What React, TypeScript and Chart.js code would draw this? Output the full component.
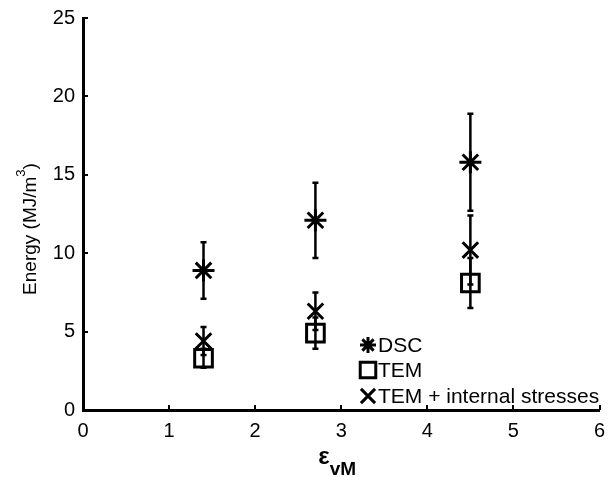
import React, { useEffect, useRef } from "react";
import { Chart, registerables } from "chart.js";

Chart.register(...registerables);

// von Mises strain at which each state was measured
const strainValues = [1.4, 2.7, 4.5];

// stored energy (MJ/m^3) and its error half-width for each method
const dscEnergy = [8.9, 12.1, 15.8];
const dscError = [1.8, 2.4, 3.1];
const temEnergy = [3.3, 4.9, 8.1];
const temError = [0.6, 1.0, 1.6];
const temStressEnergy = [4.4, 6.3, 10.2];
const temStressError = [0.9, 1.2, 2.2];

const seriesLabels = ["DSC", "TEM", "TEM + internal stresses"];
const xTicks = [0, 1, 2, 3, 4, 5, 6];
const yTicks = [0, 5, 10, 15, 20, 25];

const FONT = '"Liberation Sans", Arial, Helvetica, sans-serif';

type Marker = "star" | "rect" | "crossRot";

function drawMarker(ctx: CanvasRenderingContext2D, kind: Marker, cx: number, cy: number, r: number) {
  ctx.beginPath();
  if (kind === "star") {
    const d = r * Math.SQRT1_2;
    ctx.moveTo(cx - r, cy);
    ctx.lineTo(cx + r, cy);
    ctx.moveTo(cx, cy - r);
    ctx.lineTo(cx, cy + r);
    ctx.moveTo(cx - d, cy - d);
    ctx.lineTo(cx + d, cy + d);
    ctx.moveTo(cx - d, cy + d);
    ctx.lineTo(cx + d, cy - d);
  } else if (kind === "rect") {
    const s = r * Math.SQRT1_2;
    ctx.rect(cx - s, cy - s, 2 * s, 2 * s);
  } else {
    const d = r * Math.SQRT1_2;
    ctx.moveTo(cx - d, cy - d);
    ctx.lineTo(cx + d, cy + d);
    ctx.moveTo(cx - d, cy + d);
    ctx.lineTo(cx + d, cy - d);
  }
  ctx.stroke();
}

const decorPlugin = {
  id: "decor",
  beforeDatasetsDraw(chart: any) {
    const { ctx, scales } = chart;
    const x = scales.x;
    const y = scales.y;
    const groups = [
      [dscEnergy, dscError],
      [temEnergy, temError],
      [temStressEnergy, temStressError],
    ];
    ctx.save();
    ctx.strokeStyle = "#000";
    ctx.lineWidth = 2.5;
    for (const [vals, errs] of groups) {
      vals.forEach((v: number, i: number) => {
        const px = x.getPixelForValue(strainValues[i]);
        const top = y.getPixelForValue(v + errs[i]);
        const bot = y.getPixelForValue(v - errs[i]);
        ctx.beginPath();
        ctx.moveTo(px, top);
        ctx.lineTo(px, bot);
        ctx.moveTo(px - 3, top);
        ctx.lineTo(px + 3, top);
        ctx.moveTo(px - 3, bot);
        ctx.lineTo(px + 3, bot);
        ctx.stroke();
      });
    }
    ctx.restore();
  },
  afterDraw(chart: any) {
    const { ctx, chartArea, scales } = chart;
    const x = scales.x;
    const y = scales.y;
    ctx.save();
    ctx.strokeStyle = "#000";
    ctx.lineWidth = 2;
    // inward tick marks
    xTicks.forEach((v) => {
      const px = Math.round(x.getPixelForValue(v));
      ctx.beginPath();
      ctx.moveTo(px, chartArea.bottom);
      ctx.lineTo(px, chartArea.bottom - 5);
      ctx.stroke();
    });
    yTicks.forEach((v) => {
      const py = Math.round(y.getPixelForValue(v));
      ctx.beginPath();
      ctx.moveTo(chartArea.left, py);
      ctx.lineTo(chartArea.left + 5, py);
      ctx.stroke();
    });

    // legend
    const markers: Marker[] = ["star", "rect", "crossRot"];
    const radii = [8, 11, 10];
    const rowsY = [345, 370, 396];
    ctx.lineWidth = 3;
    ctx.fillStyle = "#000";
    ctx.font = `21px ${FONT}`;
    ctx.textBaseline = "middle";
    ctx.textAlign = "left";
    seriesLabels.forEach((label, i) => {
      drawMarker(ctx, markers[i], 368, rowsY[i], radii[i]);
      ctx.fillText(label, 378, rowsY[i] + 1);
    });

    // y axis title with superscript
    ctx.save();
    ctx.translate(29, 229);
    ctx.rotate(-Math.PI / 2);
    const mainFont = `19px ${FONT}`;
    const supFont = `13px ${FONT}`;
    ctx.font = mainFont;
    const main = "Energy (MJ/m";
    const wMain = ctx.measureText(main).width;
    ctx.font = supFont;
    const wSup = ctx.measureText("3").width;
    ctx.font = mainFont;
    const wClose = ctx.measureText(")").width;
    const total = wMain + wSup + wClose;
    let sx = -total / 2;
    ctx.textBaseline = "alphabetic";
    ctx.fillText(main, sx, 7);
    sx += wMain;
    ctx.font = supFont;
    ctx.fillText("3", sx, -4);
    sx += wSup;
    ctx.font = mainFont;
    ctx.fillText(")", sx, 7);
    ctx.restore();

    // x axis title: epsilon with subscript vM
    ctx.textBaseline = "alphabetic";
    ctx.font = `bold 24px ${FONT}`;
    const eps = "\u03b5";
    const wEps = ctx.measureText(eps).width;
    ctx.font = `bold 19px ${FONT}`;
    const wSub = ctx.measureText("vM").width;
    let tx = x.getPixelForValue(3) - (wEps + wSub) / 2 - 4;
    ctx.font = `bold 24px ${FONT}`;
    ctx.fillText(eps, tx, 464);
    tx += wEps;
    ctx.font = `bold 19px ${FONT}`;
    ctx.fillText("vM", tx, 475);
    ctx.restore();
  },
};

export default function App() {
  const canvasRef = useRef<HTMLCanvasElement | null>(null);

  useEffect(() => {
    const canvas = canvasRef.current;
    if (!canvas) return;
    const mk = (vals: number[]) => vals.map((v, i) => ({ x: strainValues[i], y: v }));
    const chart = new Chart(canvas, {
      type: "scatter",
      data: {
        datasets: [
          {
            label: seriesLabels[0],
            data: mk(dscEnergy),
            pointStyle: "star",
            pointRadius: 11,
            borderColor: "#000",
            backgroundColor: "#000",
            pointBorderWidth: 3,
          },
          {
            label: seriesLabels[1],
            data: mk(temEnergy),
            pointStyle: "rect",
            pointRadius: 12.5,
            borderColor: "#000",
            backgroundColor: "rgba(0,0,0,0)",
            pointBorderWidth: 3,
          },
          {
            label: seriesLabels[2],
            data: mk(temStressEnergy),
            pointStyle: "crossRot",
            pointRadius: 11,
            borderColor: "#000",
            backgroundColor: "#000",
            pointBorderWidth: 3,
          },
        ],
      },
      options: {
        responsive: false,
        animation: false,
        devicePixelRatio: 1,
        layout: { padding: { top: 18, right: 10, left: 0, bottom: 0 } },
        plugins: {
          legend: { display: false },
          tooltip: { enabled: false },
        },
        scales: {
          x: {
            type: "linear",
            min: 0,
            max: 6,
            afterFit: (s: any) => {
              s.height = 67;
              s.paddingLeft = 0;
              s.paddingRight = 0;
            },
            afterBuildTicks: (s: any) => {
              s.ticks = xTicks.map((v) => ({ value: v }));
            },
            grid: { display: false, drawTicks: false },
            border: { display: true, color: "#000", width: 3 },
            ticks: {
              color: "#000",
              padding: 9,
              font: { family: FONT, size: 20 },
              maxRotation: 0,
            },
          },
          y: {
            type: "linear",
            min: 0,
            max: 25,
            afterFit: (s: any) => {
              s.width = 83;
              s.paddingTop = 0;
              s.paddingBottom = 0;
            },
            afterBuildTicks: (s: any) => {
              s.ticks = yTicks.map((v) => ({ value: v }));
            },
            grid: { display: false, drawTicks: false },
            border: { display: true, color: "#000", width: 3 },
            ticks: {
              color: "#000",
              padding: 8,
              font: { family: FONT, size: 20 },
            },
          },
        },
      },
      plugins: [decorPlugin],
    });
    return () => chart.destroy();
  }, []);

  return (
    <div style={{ position: "fixed", left: 0, top: 0, width: 615, height: 477, background: "#fff" }}>
      <canvas ref={canvasRef} width={615} height={477} style={{ display: "block" }} />
    </div>
  );
}
